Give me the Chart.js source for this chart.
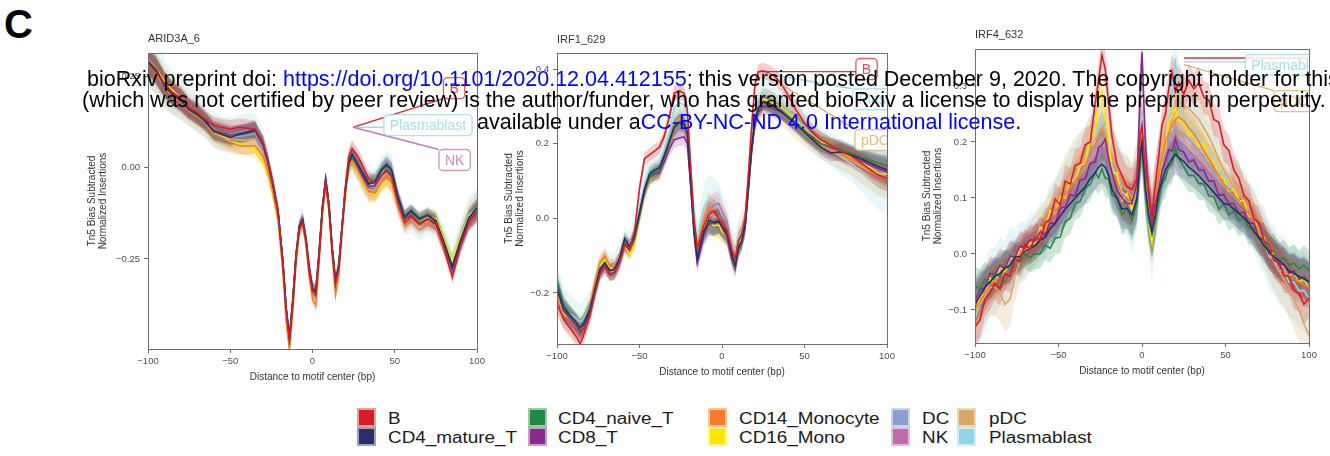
<!DOCTYPE html>
<html>
<head>
<meta charset="utf-8">
<script src="https://cdn.jsdelivr.net/npm/chart.js@4.4.0/dist/chart.umd.min.js"></script>
<style>
  html, body { margin: 0; padding: 0; background: #fff; }
  body { position: relative; width: 1330px; height: 456px; overflow: hidden; font-family: "Liberation Sans", Arial, sans-serif; }
  canvas { position: absolute; }
  #panelC { position: absolute; left: 4px; top: 1px; font: bold 40px "Liberation Sans", Arial, sans-serif; line-height: 46px; }
  .wm { position: absolute; white-space: nowrap; font-size: 21.5px; line-height: 21.5px; color: #000; z-index: 5; }
  .wm span { color: #0000ff; }
  .sw { position: absolute; width: 19px; height: 19px; box-sizing: border-box; background-clip: padding-box; }
  .lt { position: absolute; font-size: 16px; line-height: 18px; color: #1a1a1a; white-space: nowrap; transform: scaleX(1.18); transform-origin: 0 50%; }
</style>
</head>
<body>
<div id="panelC">C</div>
<canvas id="c1" width="450" height="360" style="left:40px;top:30px"></canvas>
<canvas id="c2" width="420" height="360" style="left:480px;top:30px"></canvas>
<canvas id="c3" width="425" height="360" style="left:900px;top:30px"></canvas>
<div class="wm" style="left:87px;top:69px">bioRxiv preprint doi: <span>https://doi.org/10.1101/2020.12.04.412155</span>; this version posted December 9, 2020. The copyright holder for this preprint</div>
<div class="wm" style="left:82px;top:90px">(which was not certified by peer review) is the author/funder, who has granted bioRxiv a license to display the preprint in perpetuity. It is made</div>
<div class="wm" style="left:477px;top:112px">available under a<span>CC-BY-NC-ND 4.0 International license</span>.</div>
<div id="legend"></div>
<script>
const cellTypes = ['B', 'CD4_mature_T', 'CD4_naive_T', 'CD8_T', 'CD14_Monocyte', 'CD16_Mono', 'DC', 'NK', 'pDC', 'Plasmablast'];
const cellColors = ['#D51F26', '#272E6A', '#208A42', '#89288F', '#F47D2B', '#FEE500', '#8A9FD1', '#C06CAB', '#D8A767', '#90D5E4'];
const bandScale = [1.2, 1.2, 1.2, 1.2, 1.2, 1.2, 1.5, 1.2, 2, 2.4];

const xTicks = [-100, -50, 0, 50, 100];
const aridTicks = [-0.25, 0, 0.25];
const irf1Ticks = [-0.2, 0, 0.2, 0.4];
const irf4Ticks = [-0.1, 0, 0.1, 0.2, 0.3];

// ARID3A_6
const aridPos = [-100,-95,-90,-85,-80,-75,-70,-65,-60,-55,-50,-45,-40,-35,-30,-27,-24,-21,-18,-16,-14,-12,-10,-8,-6,-4,-2,0,2,4,6,8,10,12,14,16,18,20,22,24,27,30,34,38,42,45,48,52,56,60,65,70,75,80,85,90,95,100];
const aridB = [0.285,0.26,0.228,0.205,0.19,0.165,0.15,0.13,0.115,0.11, 0.105,0.11,0.108,0.105,0.065,0.015,-0.045,-0.118,-0.26,-0.39, -0.475,-0.372,-0.245,-0.168,-0.15,-0.2,-0.282,-0.338,-0.35,-0.245, -0.118,-0.04,-0.11,-0.228,-0.32,-0.275,-0.158,-0.05,0.03,0.052, 0.035,0.01,-0.03,-0.045,-0.02,-0.01,-0.025,-0.098,-0.15,-0.135, -0.155,-0.142,-0.15,-0.22,-0.3,-0.215,-0.15,-0.12];
const aridCD4m = [0.29,0.268,0.222,0.2,0.183,0.158,0.145,0.128,0.098,0.09, 0.082,0.09,0.095,0.102,0.062,0.012,-0.048,-0.118,-0.258,-0.385, -0.465,-0.365,-0.24,-0.16,-0.142,-0.195,-0.275,-0.33,-0.34,-0.235, -0.11,-0.032,-0.1,-0.222,-0.312,-0.268,-0.16,-0.06,0.012,0.036, 0.014,-0.012,-0.045,-0.04,-0.005,0.008,-0.005,-0.08,-0.135,-0.118, -0.14,-0.13,-0.145,-0.205,-0.27,-0.2,-0.138,-0.11];
const aridCD4n = [0.288,0.262,0.226,0.198,0.186,0.162,0.143,0.125,0.1,0.092, 0.086,0.09,0.094,0.1,0.06,0.012,-0.05,-0.12,-0.26,-0.388, -0.468,-0.368,-0.242,-0.163,-0.145,-0.197,-0.278,-0.333,-0.342,-0.238, -0.113,-0.035,-0.104,-0.224,-0.315,-0.27,-0.16,-0.06,0.012,0.03, 0.01,-0.012,-0.04,-0.035,-0.01,0.002,-0.012,-0.085,-0.138,-0.122, -0.145,-0.132,-0.148,-0.208,-0.272,-0.198,-0.14,-0.112];
const aridCD8 = [0.292,0.266,0.23,0.203,0.184,0.16,0.148,0.122,0.102,0.095, 0.088,0.092,0.098,0.104,0.066,0.014,-0.046,-0.118,-0.258,-0.386, -0.466,-0.366,-0.24,-0.162,-0.143,-0.196,-0.276,-0.33,-0.34,-0.236, -0.112,-0.034,-0.104,-0.222,-0.31,-0.266,-0.162,-0.062,0.01,0.028, 0.006,-0.02,-0.052,-0.05,-0.02,-0.006,-0.02,-0.092,-0.142,-0.13, -0.152,-0.14,-0.155,-0.215,-0.28,-0.208,-0.146,-0.122];
const aridCD14 = [0.288,0.262,0.224,0.196,0.18,0.155,0.14,0.12,0.092,0.082, 0.07,0.06,0.058,0.06,0.03,-0.012,-0.07,-0.14,-0.285,-0.42, -0.5,-0.395,-0.262,-0.175,-0.155,-0.21,-0.3,-0.36,-0.378,-0.262, -0.13,-0.045,-0.12,-0.245,-0.348,-0.295,-0.175,-0.075,0.0,0.02, -0.002,-0.03,-0.065,-0.07,-0.04,-0.025,-0.04,-0.105,-0.155,-0.14, -0.16,-0.15,-0.16,-0.22,-0.28,-0.21,-0.145,-0.118];
const aridCD16 = [0.292,0.27,0.235,0.21,0.19,0.163,0.142,0.12,0.094,0.085, 0.072,0.066,0.058,0.048,0.015,-0.02,-0.075,-0.14,-0.275,-0.4, -0.475,-0.375,-0.246,-0.168,-0.148,-0.2,-0.282,-0.338,-0.35,-0.245, -0.12,-0.04,-0.11,-0.228,-0.322,-0.276,-0.168,-0.07,0.0,0.018, -0.008,-0.035,-0.07,-0.075,-0.045,-0.034,-0.045,-0.1,-0.145,-0.13, -0.148,-0.135,-0.14,-0.195,-0.255,-0.19,-0.135,-0.112];
const aridDC = [0.29,0.264,0.224,0.2,0.185,0.16,0.146,0.126,0.1,0.093, 0.084,0.085,0.088,0.092,0.052,0.006,-0.054,-0.124,-0.265,-0.392, -0.47,-0.37,-0.244,-0.165,-0.145,-0.198,-0.28,-0.335,-0.345,-0.24, -0.115,-0.036,-0.106,-0.225,-0.316,-0.27,-0.163,-0.062,0.01,0.032, 0.01,-0.018,-0.05,-0.055,-0.022,-0.005,-0.02,-0.09,-0.14,-0.13, -0.152,-0.142,-0.148,-0.205,-0.262,-0.195,-0.138,-0.115];
const aridNK = [0.29,0.265,0.226,0.202,0.186,0.16,0.145,0.125,0.102,0.096, 0.09,0.094,0.098,0.104,0.062,0.012,-0.048,-0.118,-0.258,-0.385, -0.462,-0.362,-0.238,-0.158,-0.138,-0.19,-0.27,-0.325,-0.335,-0.232, -0.11,-0.032,-0.1,-0.22,-0.31,-0.266,-0.16,-0.062,0.008,0.03, 0.008,-0.02,-0.055,-0.055,-0.022,-0.008,-0.022,-0.092,-0.142,-0.13, -0.152,-0.14,-0.155,-0.215,-0.282,-0.21,-0.145,-0.12];
const aridPDC = [0.285,0.258,0.22,0.195,0.182,0.158,0.142,0.122,0.095,0.088, 0.078,0.075,0.075,0.078,0.04,0.0,-0.06,-0.13,-0.27,-0.398, -0.478,-0.378,-0.25,-0.168,-0.148,-0.2,-0.285,-0.34,-0.352,-0.245, -0.12,-0.04,-0.112,-0.232,-0.325,-0.278,-0.166,-0.064,0.008,0.028, 0.004,-0.025,-0.06,-0.062,-0.03,-0.015,-0.03,-0.098,-0.148,-0.135, -0.155,-0.14,-0.152,-0.21,-0.265,-0.196,-0.135,-0.11];
const aridPB = [0.295,0.27,0.228,0.205,0.19,0.165,0.148,0.128,0.103,0.092, 0.09,0.095,0.1,0.1,0.058,0.01,-0.052,-0.122,-0.268,-0.395, -0.46,-0.36,-0.235,-0.158,-0.14,-0.192,-0.272,-0.325,-0.335,-0.23, -0.108,-0.03,-0.1,-0.218,-0.305,-0.262,-0.158,-0.058,0.014,0.03, 0.008,-0.018,-0.05,-0.045,-0.015,0.0,-0.012,-0.09,-0.145,-0.14, -0.165,-0.145,-0.152,-0.2,-0.25,-0.188,-0.13,-0.11];
const aridBand = [0.03,0.03,0.028,0.025,0.025,0.022,0.022,0.02,0.02,0.02, 0.02,0.02,0.02,0.02,0.018,0.018,0.016,0.015,0.014,0.014, 0.014,0.014,0.013,0.013,0.013,0.013,0.013,0.013,0.013,0.013, 0.013,0.013,0.013,0.013,0.014,0.014,0.014,0.015,0.016,0.018, 0.018,0.018,0.018,0.018,0.018,0.02,0.02,0.018,0.016,0.016, 0.016,0.016,0.016,0.016,0.016,0.018,0.02,0.022];

// IRF1_629
const irf1Pos = [-100,-96,-92,-88,-86,-84,-80,-77,-74,-71,-68,-65,-62,-59,-56,-53,-50,-47,-44,-41,-38,-35,-32,-29,-26,-23,-21,-19,-17,-15,-13,-11,-8,-5,-2,0,3,6,8,10,12,14,16,18,20,22,25,28,32,36,40,45,50,55,60,66,72,78,84,90,95,100];
const irf1B = [-0.229,-0.27,-0.295,-0.32,-0.336,-0.315,-0.26,-0.2,-0.15,-0.13, -0.15,-0.145,-0.115,-0.07,-0.08,-0.035,0.08,0.16,0.17,0.18, 0.19,0.22,0.27,0.335,0.342,0.335,0.29,0.14,0.0,-0.08, -0.05,-0.02,0.01,0.02,0.0,-0.01,-0.03,-0.085,-0.11,-0.06, -0.04,0.0,0.12,0.25,0.36,0.392,0.395,0.39,0.38,0.36, 0.33,0.29,0.255,0.23,0.21,0.195,0.18,0.168,0.15,0.13, 0.115,0.108];
const irf1CD4m = [-0.185,-0.24,-0.262,-0.282,-0.295,-0.285,-0.245,-0.19,-0.138,-0.12, -0.14,-0.135,-0.105,-0.055,-0.075,-0.045,0.015,0.078,0.118,0.128, 0.135,0.168,0.205,0.245,0.258,0.255,0.23,0.1,-0.03,-0.11, -0.07,-0.035,-0.005,-0.012,-0.008,-0.02,-0.04,-0.1,-0.125,-0.078, -0.06,-0.02,0.085,0.19,0.262,0.295,0.312,0.31,0.298,0.285, 0.27,0.25,0.23,0.21,0.19,0.175,0.178,0.17,0.16,0.148, 0.138,0.13];
const irf1CD4n = [-0.168,-0.232,-0.258,-0.28,-0.292,-0.28,-0.24,-0.188,-0.135,-0.118, -0.14,-0.138,-0.11,-0.065,-0.08,-0.048,0.012,0.074,0.112,0.122, 0.128,0.162,0.2,0.24,0.255,0.25,0.225,0.1,-0.025,-0.1, -0.065,-0.035,-0.008,-0.015,-0.01,-0.022,-0.04,-0.098,-0.128,-0.08, -0.06,-0.022,0.082,0.188,0.26,0.292,0.31,0.305,0.298,0.288, 0.272,0.255,0.235,0.215,0.2,0.192,0.185,0.175,0.165,0.155, 0.148,0.142];
const irf1CD8 = [-0.19,-0.248,-0.27,-0.29,-0.305,-0.295,-0.25,-0.198,-0.145,-0.128, -0.15,-0.145,-0.118,-0.072,-0.085,-0.055,0.005,0.068,0.108,0.118, 0.122,0.152,0.185,0.21,0.215,0.218,0.2,0.085,-0.04,-0.12, -0.085,-0.045,-0.015,-0.012,-0.005,-0.025,-0.05,-0.11,-0.135,-0.085, -0.065,-0.025,0.075,0.18,0.252,0.285,0.3,0.298,0.292,0.285, 0.272,0.255,0.235,0.218,0.2,0.19,0.18,0.168,0.155,0.142, 0.132,0.125];
const irf1CD14 = [-0.195,-0.25,-0.268,-0.29,-0.3,-0.285,-0.235,-0.17,-0.118,-0.1, -0.128,-0.13,-0.108,-0.07,-0.088,-0.058,0.008,0.072,0.11,0.12, 0.125,0.16,0.2,0.245,0.262,0.258,0.232,0.112,-0.005,-0.075, -0.04,-0.01,0.03,0.01,0.005,-0.01,-0.028,-0.08,-0.1,-0.06, -0.045,-0.008,0.095,0.2,0.268,0.298,0.315,0.31,0.298,0.285, 0.27,0.25,0.228,0.21,0.195,0.182,0.172,0.16,0.145,0.128, 0.115,0.11];
const irf1CD16 = [-0.2,-0.255,-0.27,-0.29,-0.3,-0.29,-0.24,-0.18,-0.125,-0.11, -0.135,-0.135,-0.112,-0.072,-0.098,-0.07,0.0,0.065,0.105,0.118, 0.125,0.16,0.198,0.24,0.258,0.252,0.225,0.105,-0.01,-0.085, -0.05,-0.025,-0.005,-0.02,-0.018,-0.035,-0.05,-0.1,-0.12,-0.075, -0.055,-0.018,0.088,0.195,0.265,0.298,0.318,0.315,0.305,0.298, 0.282,0.262,0.24,0.22,0.205,0.19,0.178,0.165,0.152,0.135, 0.12,0.118];
const irf1DC = [-0.195,-0.25,-0.268,-0.288,-0.298,-0.29,-0.248,-0.195,-0.142,-0.125, -0.145,-0.14,-0.112,-0.07,-0.082,-0.05,0.01,0.072,0.112,0.122, 0.128,0.165,0.205,0.25,0.265,0.26,0.235,0.11,-0.015,-0.085, -0.045,-0.015,0.01,0.0,0.005,-0.01,-0.028,-0.085,-0.108,-0.065, -0.048,-0.012,0.092,0.2,0.27,0.3,0.32,0.318,0.308,0.298, 0.283,0.263,0.242,0.222,0.205,0.19,0.18,0.168,0.155,0.14, 0.128,0.12];
const irf1NK = [-0.188,-0.245,-0.265,-0.285,-0.298,-0.288,-0.245,-0.192,-0.14,-0.122, -0.142,-0.138,-0.11,-0.065,-0.078,-0.048,0.012,0.075,0.115,0.125, 0.13,0.16,0.195,0.23,0.24,0.238,0.215,0.095,-0.025,-0.1, -0.06,-0.02,0.02,0.035,0.04,0.02,-0.01,-0.08,-0.105,-0.062, -0.045,-0.01,0.09,0.195,0.265,0.298,0.315,0.31,0.3,0.29, 0.275,0.255,0.235,0.215,0.198,0.185,0.175,0.163,0.15,0.138, 0.128,0.12];
const irf1PDC = [-0.2,-0.255,-0.272,-0.292,-0.3,-0.29,-0.245,-0.188,-0.135,-0.115, -0.138,-0.138,-0.112,-0.07,-0.082,-0.05,0.01,0.075,0.115,0.125, 0.13,0.165,0.205,0.25,0.268,0.262,0.238,0.112,-0.008,-0.08, -0.04,-0.012,0.015,0.005,0.0,-0.012,-0.03,-0.085,-0.105,-0.062, -0.045,-0.012,0.092,0.2,0.27,0.3,0.318,0.312,0.3,0.285, 0.268,0.248,0.228,0.21,0.195,0.18,0.168,0.155,0.14,0.125, 0.115,0.112];
const irf1PB = [-0.185,-0.235,-0.255,-0.27,-0.278,-0.27,-0.235,-0.185,-0.13,-0.112, -0.13,-0.128,-0.1,-0.06,-0.07,-0.035,0.03,0.09,0.13,0.14, 0.148,0.185,0.23,0.295,0.31,0.305,0.275,0.14,0.02,-0.06, -0.01,0.03,0.05,0.04,0.03,0.01,-0.01,-0.07,-0.09,-0.05, -0.03,0.0,0.105,0.215,0.285,0.315,0.335,0.33,0.318,0.305, 0.29,0.268,0.245,0.222,0.2,0.182,0.165,0.148,0.128,0.105, 0.09,0.08];
const irf1Band = [0.025,0.022,0.02,0.02,0.02,0.02,0.018,0.016,0.015,0.015, 0.015,0.015,0.015,0.015,0.015,0.015,0.015,0.015,0.015,0.015, 0.015,0.015,0.016,0.018,0.018,0.018,0.018,0.018,0.02,0.02, 0.022,0.025,0.028,0.028,0.028,0.025,0.022,0.02,0.02,0.02, 0.02,0.02,0.018,0.018,0.018,0.018,0.018,0.018,0.018,0.018, 0.018,0.018,0.018,0.018,0.018,0.018,0.02,0.02,0.022,0.025, 0.028,0.03];

// IRF4_632
const irf4Pos = [-100,-97,-94,-91,-88,-85,-82,-79,-76,-73,-70,-67,-64,-61,-58,-55,-52,-49,-46,-43,-40,-37,-34,-31,-28,-26,-24,-22,-20,-18,-15,-12,-9,-6,-3,-1,0,2,4,6,8,10,12,14,16,18,20,22,25,28,31,34,37,40,43,46,49,52,55,58,61,64,67,70,73,76,79,82,85,88,91,94,97,100];
const irf4B = [-0.13,-0.118,-0.08,-0.07,-0.052,-0.062,-0.035,-0.04,-0.01,-0.012, 0.018,0.008,0.03,0.025,0.055,0.062,0.098,0.088,0.13,0.125, 0.158,0.162,0.195,0.2,0.27,0.31,0.355,0.33,0.27,0.21, 0.16,0.14,0.12,0.115,0.135,0.215,0.23,0.15,0.115,0.065, 0.125,0.175,0.23,0.25,0.295,0.325,0.29,0.305,0.285,0.31, 0.295,0.305,0.28,0.275,0.24,0.235,0.195,0.185,0.15,0.135, 0.105,0.095,0.062,0.055,0.025,0.015,-0.012,-0.015,-0.038,-0.04, -0.065,-0.07,-0.09,-0.078];
const irf4CD4m = [-0.09,-0.075,-0.06,-0.05,-0.04,-0.035,-0.025,-0.02,-0.005,-0.005, 0.005,0.01,0.015,0.025,0.03,0.045,0.055,0.068,0.08,0.09, 0.1,0.11,0.12,0.135,0.145,0.155,0.16,0.155,0.14,0.115, 0.1,0.08,0.082,0.07,0.1,0.18,0.2,0.12,0.07,0.04, 0.07,0.11,0.13,0.15,0.16,0.17,0.178,0.172,0.165,0.155, 0.148,0.14,0.13,0.12,0.11,0.1,0.09,0.088,0.08,0.072, 0.065,0.055,0.04,0.03,0.015,0.005,-0.005,-0.012,-0.02,-0.03, -0.035,-0.04,-0.045,-0.05];
const irf4CD4n = [-0.058,-0.062,-0.045,-0.052,-0.035,-0.04,-0.022,-0.026,-0.008,-0.015, 0.0,-0.006,0.0,0.0,0.016,0.01,0.028,0.03,0.058,0.064, 0.09,0.094,0.118,0.124,0.146,0.136,0.152,0.135,0.134,0.105, 0.1,0.07,0.08,0.06,0.092,0.17,0.188,0.112,0.06,0.035, 0.065,0.095,0.126,0.134,0.156,0.16,0.19,0.17,0.156,0.14, 0.14,0.126,0.125,0.104,0.102,0.08,0.09,0.07,0.076,0.06, 0.064,0.046,0.044,0.026,0.024,0.006,0.004,-0.012,-0.006,-0.02, -0.016,-0.027,-0.02,-0.03];
const irf4CD8 = [-0.085,-0.064,-0.06,-0.035,-0.036,-0.02,-0.026,-0.004,-0.006,0.015, 0.01,0.026,0.024,0.04,0.034,0.056,0.054,0.082,0.084,0.106, 0.104,0.132,0.134,0.162,0.164,0.19,0.195,0.205,0.17,0.145, 0.115,0.1,0.09,0.09,0.128,0.3,0.36,0.2,0.104,0.056, 0.09,0.115,0.15,0.165,0.186,0.184,0.205,0.186,0.182,0.164, 0.168,0.15,0.15,0.13,0.13,0.105,0.106,0.09,0.09,0.072, 0.075,0.055,0.055,0.03,0.025,0.0,-0.003,-0.02,-0.018,-0.035, -0.03,-0.045,-0.04,-0.052];
const irf4CD14 = [-0.1,-0.085,-0.07,-0.055,-0.048,-0.04,-0.035,-0.02,-0.01,0.0, 0.01,0.015,0.022,0.035,0.045,0.065,0.075,0.09,0.105,0.12, 0.13,0.145,0.16,0.18,0.195,0.21,0.22,0.2,0.17,0.145, 0.13,0.105,0.1,0.09,0.12,0.2,0.22,0.14,0.09,0.055, 0.095,0.14,0.17,0.2,0.215,0.23,0.24,0.245,0.238,0.225, 0.215,0.2,0.185,0.17,0.155,0.14,0.125,0.115,0.105,0.095, 0.085,0.072,0.058,0.04,0.022,0.005,-0.01,-0.02,-0.03,-0.04, -0.045,-0.05,-0.055,-0.058];
const irf4CD16 = [-0.105,-0.078,-0.07,-0.042,-0.052,-0.025,-0.032,-0.005,-0.012,0.01, 0.004,0.02,0.018,0.048,0.042,0.078,0.072,0.102,0.1,0.132, 0.128,0.158,0.162,0.21,0.22,0.275,0.29,0.25,0.205,0.145, 0.145,0.095,0.108,0.08,0.125,0.19,0.205,0.125,0.055,0.02, 0.075,0.115,0.168,0.19,0.235,0.245,0.26,0.238,0.235,0.212, 0.215,0.192,0.198,0.172,0.165,0.138,0.135,0.112,0.115,0.095, 0.095,0.068,0.065,0.035,0.03,0.004,0.0,-0.02,-0.02,-0.038, -0.032,-0.05,-0.045,-0.06];
const irf4DC = [-0.09,-0.078,-0.062,-0.05,-0.042,-0.035,-0.028,-0.015,-0.005,0.002, 0.01,0.015,0.022,0.035,0.045,0.062,0.075,0.088,0.105,0.118, 0.13,0.142,0.158,0.175,0.19,0.205,0.215,0.2,0.17,0.14, 0.122,0.1,0.095,0.075,0.11,0.19,0.21,0.13,0.08,0.05, 0.09,0.135,0.16,0.185,0.2,0.215,0.225,0.22,0.215,0.205, 0.195,0.185,0.172,0.16,0.145,0.13,0.12,0.112,0.102,0.092, 0.085,0.072,0.058,0.042,0.025,0.01,-0.005,-0.015,-0.025,-0.035, -0.04,-0.045,-0.05,-0.052];
const irf4NK = [-0.085,-0.075,-0.06,-0.048,-0.04,-0.03,-0.025,-0.012,-0.002,0.005, 0.012,0.018,0.025,0.035,0.042,0.055,0.065,0.078,0.095,0.105, 0.118,0.13,0.142,0.16,0.172,0.182,0.19,0.185,0.16,0.13, 0.115,0.095,0.095,0.085,0.115,0.19,0.21,0.13,0.085,0.05, 0.085,0.125,0.15,0.175,0.188,0.2,0.208,0.202,0.195,0.185, 0.175,0.165,0.155,0.145,0.13,0.118,0.108,0.1,0.092,0.083, 0.075,0.065,0.052,0.038,0.022,0.008,-0.005,-0.015,-0.022,-0.03, -0.038,-0.042,-0.046,-0.05];
const irf4PDC = [-0.1,-0.09,-0.075,-0.06,-0.06,-0.07,-0.09,-0.08,-0.04,-0.01, 0.005,0.015,0.025,0.04,0.05,0.07,0.085,0.1,0.13,0.145, 0.16,0.17,0.18,0.195,0.205,0.215,0.225,0.22,0.2,0.17, 0.15,0.12,0.115,0.1,0.13,0.2,0.22,0.15,0.1,0.065, 0.1,0.15,0.18,0.21,0.225,0.24,0.255,0.26,0.265,0.26, 0.25,0.24,0.225,0.21,0.19,0.17,0.15,0.135,0.12,0.105, 0.095,0.08,0.062,0.045,0.025,0.005,-0.015,-0.03,-0.045,-0.06, -0.08,-0.1,-0.125,-0.145];
const irf4PB = [-0.115,-0.09,-0.076,-0.05,-0.05,-0.03,-0.036,-0.01,-0.01,0.005, 0.003,0.02,0.02,0.04,0.043,0.074,0.075,0.1,0.105,0.13, 0.135,0.158,0.162,0.196,0.205,0.23,0.236,0.226,0.2,0.155, 0.14,0.11,0.105,0.08,0.12,0.22,0.25,0.15,0.08,0.04, 0.095,0.135,0.175,0.195,0.235,0.28,0.35,0.265,0.245,0.225, 0.225,0.204,0.2,0.175,0.17,0.145,0.14,0.12,0.117,0.095, 0.095,0.07,0.063,0.035,0.025,-0.004,-0.01,-0.03,-0.03,-0.05, -0.05,-0.066,-0.065,-0.08];
const irf4Band = [0.03,0.028,0.026,0.025,0.025,0.025,0.025,0.024,0.022,0.022, 0.022,0.022,0.022,0.022,0.022,0.022,0.024,0.024,0.024,0.024, 0.024,0.024,0.025,0.025,0.025,0.026,0.028,0.028,0.028,0.028, 0.028,0.03,0.03,0.032,0.034,0.036,0.036,0.036,0.036,0.038, 0.034,0.03,0.028,0.028,0.028,0.028,0.03,0.028,0.026,0.025, 0.025,0.025,0.024,0.024,0.024,0.024,0.024,0.024,0.024,0.024, 0.024,0.024,0.024,0.024,0.025,0.025,0.026,0.026,0.026,0.026, 0.028,0.028,0.03,0.03];

const family = '"Liberation Sans", Arial, sans-serif';

function rgba(hex, a) {
  const n = parseInt(hex.slice(1), 16);
  return 'rgba(' + (n >> 16) + ',' + ((n >> 8) & 255) + ',' + (n & 255) + ',' + a + ')';
}
function fmt(v, d) {
  return (v < 0 ? '\u2212' : '') + Math.abs(v).toFixed(d);
}

// frame, panel title and the repel-style labels
const deco = {
  id: 'deco',
  afterDatasetsDraw(chart, args, o) {
    const {ctx, chartArea: a, scales: {x, y}} = chart;
    ctx.save();
    ctx.beginPath();
    ctx.rect(a.left, a.top, a.right - a.left, a.bottom - a.top);
    ctx.clip();
    ctx.font = '14px ' + family;
    const boxes = o.callouts.map(c => {
      const w = ctx.measureText(c.text).width + 12, h = 21;
      const cx = x.getPixelForValue(c.at[0]), cy = y.getPixelForValue(c.at[1]);
      return {c, l: cx - w / 2, t: cy - h / 2, w, h, cx, cy};
    });
    ctx.lineWidth = 1.4;
    boxes.forEach(b => {
      const ax = x.getPixelForValue(b.c.from[0]), ay = y.getPixelForValue(b.c.from[1]);
      const ex = Math.min(Math.max(ax, b.l), b.l + b.w);
      const ey = Math.min(Math.max(ay, b.t), b.t + b.h);
      ctx.strokeStyle = rgba(b.c.color, 0.9);
      ctx.beginPath();
      ctx.moveTo(ax, ay);
      ctx.lineTo(ex, ey);
      ctx.stroke();
    });
    boxes.forEach(b => {
      ctx.beginPath();
      ctx.roundRect(b.l, b.t, b.w, b.h, 4);
      ctx.fillStyle = 'rgba(255,255,255,0.85)';
      ctx.fill();
      ctx.strokeStyle = rgba(b.c.color, 0.7);
      ctx.stroke();
      ctx.fillStyle = rgba(b.c.color, 0.8);
      ctx.textAlign = 'center';
      ctx.textBaseline = 'middle';
      ctx.fillText(b.c.text, b.cx, b.cy + 1);
    });
    ctx.restore();

    ctx.save();
    ctx.strokeStyle = '#6e6e6e';
    ctx.lineWidth = 1;
    ctx.strokeRect(Math.round(a.left) + 0.5, Math.round(a.top) + 0.5, Math.round(a.right - a.left), Math.round(a.bottom - a.top));
    ctx.fillStyle = '#333';
    ctx.font = '11px ' + family;
    ctx.textAlign = 'left';
    ctx.textBaseline = 'alphabetic';
    ctx.fillText(o.title, a.left, o.titleY);
    ctx.restore();
  }
};

function makePanel(id, p) {
  const datasets = [];
  p.series.forEach((ys, k) => {
    const s = bandScale[k];
    datasets.push({
      data: p.pos.map((x, i) => ({x, y: ys[i] + p.band[i] * s})),
      fill: '+1', backgroundColor: rgba(cellColors[k], 0.22),
      borderWidth: 0, pointRadius: 0, order: 1
    });
    datasets.push({
      data: p.pos.map((x, i) => ({x, y: ys[i] - p.band[i] * s})),
      fill: false, borderWidth: 0, pointRadius: 0, order: 1
    });
  });
  p.series.forEach((ys, k) => {
    datasets.push({
      label: cellTypes[k],
      data: p.pos.map((x, i) => ({x, y: ys[i]})),
      borderColor: cellColors[k], borderWidth: 1.6,
      pointRadius: 0, fill: false, order: 0
    });
  });

  const grid = { drawOnChartArea: false, tickLength: 4, color: '#6e6e6e' };
  const border = { color: '#6e6e6e', width: 1 };

  new Chart(document.getElementById(id), {
    type: 'line',
    data: { datasets },
    options: {
      responsive: false,
      animation: false,
      devicePixelRatio: 1,
      layout: { padding: p.pad },
      plugins: {
        legend: { display: false },
        tooltip: { enabled: false },
        deco: { title: p.title, titleY: p.titleY, callouts: p.callouts }
      },
      scales: {
        x: {
          type: 'linear', min: -100, max: 100,
          afterBuildTicks: s => { s.ticks = xTicks.map(v => ({value: v})); },
          afterFit: s => { s.height = 34; s.paddingLeft = 0; s.paddingRight = 0; },
          ticks: { autoSkip: false, maxRotation: 0, padding: 3, color: '#4d4d4d', font: {family, size: 9.5}, callback: v => fmt(v, 0) },
          grid, border,
          title: { display: true, text: 'Distance to motif center (bp)', color: '#333', font: {family, size: 10}, padding: 0 }
        },
        y: {
          type: 'linear', min: p.yMin, max: p.yMax,
          afterBuildTicks: s => { s.ticks = p.yTicks.map(v => ({value: v})); },
          afterFit: s => { s.width = p.yWidth; s.paddingTop = 0; s.paddingBottom = 0; },
          ticks: { padding: 4, color: '#4d4d4d', font: {family, size: 9.5}, callback: v => fmt(v, p.dec) },
          grid, border,
          title: { display: true, text: ['Tn5 Bias Subtracted', 'Normalized Insertions'], color: '#333', font: {family, size: 10, lineHeight: 1.1}, padding: 0 }
        }
      }
    },
    plugins: [deco]
  });
}

makePanel('c1', {
  title: 'ARID3A_6', titleY: 12,
  pos: aridPos, band: aridBand,
  series: [aridB, aridCD4m, aridCD4n, aridCD8, aridCD14, aridCD16, aridDC, aridNK, aridPDC, aridPB],
  yMin: -0.496, yMax: 0.313, yTicks: aridTicks, dec: 2, yWidth: 61.5,
  pad: { left: 46.5, right: 13, top: 23, bottom: 7 },
  callouts: [
    { text: 'B', color: '#D51F26', from: [24.7, 0.11], at: [86.1, 0.217] },
    { text: 'Plasmablast', color: '#90D5E4', from: [24.7, 0.11], at: [70.2, 0.116] },
    { text: 'NK', color: '#C06CAB', from: [24.7, 0.11], at: [86.4, 0.0205] }
  ]
});

makePanel('c2', {
  title: 'IRF1_629', titleY: 13,
  pos: irf1Pos, band: irf1Band,
  series: [irf1B, irf1CD4m, irf1CD4n, irf1CD8, irf1CD14, irf1CD16, irf1DC, irf1NK, irf1PDC, irf1PB],
  yMin: -0.337, yMax: 0.443, yTicks: irf1Ticks, dec: 1, yWidth: 53.5,
  pad: { left: 23.5, right: 13, top: 23, bottom: 12 },
  callouts: [
    { text: 'B', color: '#D51F26', from: [24.2, 0.393], at: [87.6, 0.40] },
    { text: 'Plasmablast', color: '#90D5E4', from: [24.2, 0.39], at: [105.8, 0.319] },
    { text: 'pDC', color: '#D8A767', from: [24.2, 0.39], at: [92.7, 0.21] }
  ]
});

makePanel('c3', {
  title: 'IRF4_632', titleY: 8,
  pos: irf4Pos, band: irf4Band,
  series: [irf4B, irf4CD4m, irf4CD4n, irf4CD8, irf4CD14, irf4CD16, irf4DC, irf4NK, irf4PDC, irf4PB],
  yMin: -0.159, yMax: 0.366, yTicks: irf4Ticks, dec: 1, yWidth: 53.5,
  pad: { left: 21.5, right: 16, top: 19, bottom: 13 },
  callouts: [
    { text: 'B', color: '#D51F26', from: [25.1, 0.35], at: [125, 0.352] },
    { text: 'Plasmablast', color: '#90D5E4', from: [25.1, 0.343], at: [88.3, 0.3375] },
    { text: 'pDC', color: '#D8A767', from: [25.1, 0.338], at: [91, 0.273] }
  ]
});

// legend, 5 columns x 2 rows
const legSwatchX = [357, 528, 708, 891, 957];
const legTextX = [388, 558, 739, 922, 989];
const legend = document.getElementById('legend');
cellTypes.forEach((name, k) => {
  const col = Math.floor(k / 2), row = k % 2;
  const sw = document.createElement('div');
  sw.className = 'sw';
  sw.style.left = legSwatchX[col] + 'px';
  sw.style.top = (408 + row * 19) + 'px';
  sw.style.background = cellColors[k];
  sw.style.border = '2px solid ' + rgba(cellColors[k], 0.45);
  sw.style.backgroundClip = 'padding-box';
  legend.appendChild(sw);
  const t = document.createElement('div');
  t.className = 'lt';
  t.style.left = legTextX[col] + 'px';
  t.style.top = (410 + row * 19) + 'px';
  t.textContent = name;
  legend.appendChild(t);
});
</script>
</body>
</html>
